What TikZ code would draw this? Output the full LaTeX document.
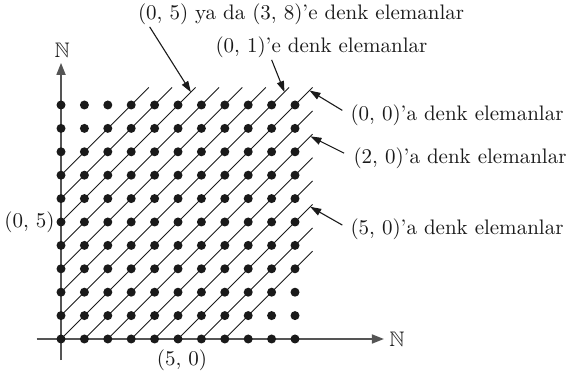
\documentclass[tikz,border=0pt]{standalone}
\usepackage{amsmath,amssymb}
\usepackage{xcolor}
\usepackage{tikz}
\usetikzlibrary{arrows.meta,positioning,calc}
\definecolor{ink}{HTML}{1A1A1A}
\definecolor{axisgray}{HTML}{555555}

\begin{document}
\begin{tikzpicture}[x=11.7pt,y=11.7pt,
  axis/.style={draw=axisgray,line width=0.85pt,-{Triangle[length=6pt,width=4.5pt]}},
  diag/.style={draw=ink,line width=0.45pt},
  dot/.style={fill=ink},
  lbl/.style={font=\fontsize{10.5}{12}\selectfont,text=ink,inner sep=1pt},
  pointer/.style={draw=ink,line width=0.55pt,-{Triangle[length=5.5pt,width=3.6pt]}}
]
  \useasboundingbox (-2.607,-1.538) rectangle (21.624,14.487);
  % axes
  \coordinate (xa) at (-1.04,0);
  \coordinate (xb) at (13.8,0);
  \coordinate (ya) at (0,-0.9);
  \coordinate (yb) at (0,11.8);
  \draw[axis] (xa) -- (xb);
  \draw[axis] (ya) -- (yb);
  \node[lbl] (natx) at (14.36,0)   {$\mathbb{N}$};
  \node[lbl] (naty) at (0.05,12.35) {$\mathbb{N}$};
  % classes x - y = c
  \foreach \c in {-7,...,7}{
    \pgfmathsetmacro{\sx}{max(0,\c)}
    \pgfmathsetmacro{\sy}{max(0,-\c)}
    \draw[diag] (\sx,\sy) -- (10.75-\sy,10.75-\sx);
  }
  % lattice points
  \foreach \i in {0,...,10}
    \foreach \j in {0,...,10}
      \fill[dot] (\i,\j) circle (2.25pt);
  % axis labels
  \node[lbl,anchor=east] (p05) at (-0.17,5.01) {(0, 5)};
  \node[lbl] (p50) at (5.17,-0.92) {(5, 0)};
  % class labels
  \node[lbl] (cls5) at (10.26,13.89) {(0, 5) ya da (3, 8)'e denk elemanlar};
  \node[lbl] (cls1) at (11.13,12.48) {(0, 1)'e denk elemanlar};
  \node[lbl,anchor=west] (cls0)  at (12.27,9.57) {(0, 0)'a denk elemanlar};
  \node[lbl,anchor=west] (cls2)  at (12.4,7.74)  {(2, 0)'a denk elemanlar};
  \node[lbl,anchor=west] (cls50) at (12.27,4.70) {(5, 0)'a denk elemanlar};
  \coordinate (endA) at (5.55,10.55);
  \coordinate (endB) at (9.55,10.55);
  \coordinate (endC) at (10.62,10.62);
  \coordinate (endD) at (10.66,8.66);
  \coordinate (endE) at (10.65,5.65);
  \draw[pointer] (cls5.south west) ++(0.6,0) -- (endA);
  \draw[pointer] (cls1.south west) ++(2.5,0) -- (endB);
  \draw[pointer] (cls0.west) ++(-0.25,0.2) -- (endC);
  \draw[pointer] (cls2.west) ++(-0.3,0.2) -- (endD);
  \draw[pointer] (cls50.west) ++(-0.25,0.17) -- (endE);
\end{tikzpicture}
\end{document}
